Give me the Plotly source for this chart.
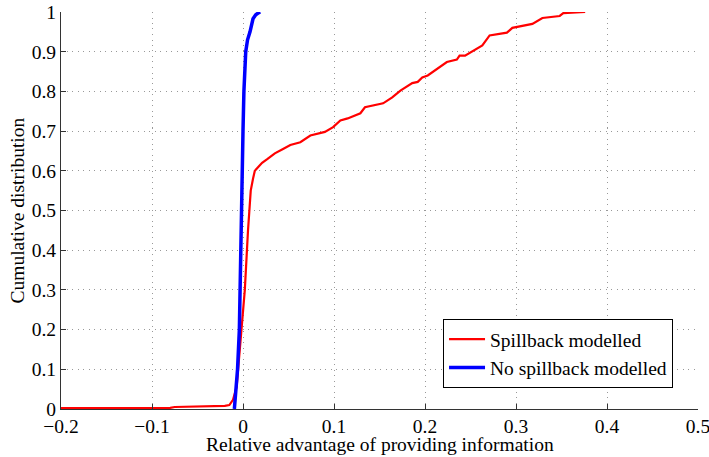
import plotly.graph_objects as go

# Spillback modelled (red) CDF
red_x = [-0.2, -0.1, -0.08, -0.075, -0.05, -0.045, -0.02, -0.015, -0.011, -0.007, -0.0015,
         0.002, 0.0055, 0.0066, 0.0085, 0.011, 0.013, 0.017, 0.021, 0.027, 0.035, 0.044,
         0.052, 0.063, 0.074, 0.09, 0.099, 0.107, 0.115, 0.129, 0.134, 0.154, 0.164, 0.173,
         0.186, 0.192, 0.197, 0.203, 0.213, 0.224, 0.235, 0.238, 0.244, 0.253, 0.263, 0.271,
         0.290, 0.296, 0.318, 0.329, 0.348, 0.352, 0.376]
red_y = [0.002, 0.002, 0.003, 0.005, 0.006, 0.008, 0.008, 0.01, 0.023, 0.055, 0.2,
         0.3, 0.45, 0.5, 0.55, 0.58, 0.6, 0.61, 0.62, 0.63, 0.644, 0.655,
         0.665, 0.672, 0.689, 0.698, 0.71, 0.727, 0.732, 0.745, 0.76, 0.77, 0.785, 0.802,
         0.821, 0.824, 0.835, 0.840, 0.857, 0.874, 0.880, 0.890, 0.890, 0.903, 0.916, 0.941,
         0.948, 0.960, 0.970, 0.985, 0.990, 0.997, 1.0]

# No spillback modelled (blue) CDF
blue_x = [-0.0095, -0.008, -0.006, -0.004, -0.002, -0.001, 0.0, 0.001, 0.002, 0.003,
          0.005, 0.0077, 0.011, 0.014, 0.017, 0.019]
blue_y = [0.0, 0.05, 0.1, 0.2, 0.5, 0.6, 0.7, 0.8, 0.85, 0.9,
          0.93, 0.95, 0.983, 0.993, 0.998, 1.0]

x_ticks = [-0.2, -0.1, 0, 0.1, 0.2, 0.3, 0.4, 0.5]
x_tick_labels = ["\u22120.2", "\u22120.1", "0", "0.1", "0.2", "0.3", "0.4", "0.5"]
y_ticks = [0, 0.1, 0.2, 0.3, 0.4, 0.5, 0.6, 0.7, 0.8, 0.9, 1]
y_tick_labels = ["0", "0.1", "0.2", "0.3", "0.4", "0.5", "0.6", "0.7", "0.8", "0.9", "1"]

x_title = "Relative advantage of providing information"
y_title = "Cumulative distribution"

FONT = "Liberation Serif"
FS = 19.5

fig = go.Figure()
fig.add_trace(go.Scatter(x=red_x, y=red_y, mode="lines", name="Spillback modelled",
                         line=dict(color="#ff0000", width=2.2)))
fig.add_trace(go.Scatter(x=blue_x, y=blue_y, mode="lines", name="No spillback modelled",
                         line=dict(color="#0000ff", width=3.5)))

axis_common = dict(
    showline=True, linecolor="#333333", linewidth=1,
    ticks="inside", ticklen=5, tickcolor="#333333",
    showgrid=True, gridcolor="#999999", griddash="1px,4.5px", gridwidth=1,
    zeroline=False, mirror=False, automargin=False,
    ticklabeloverflow="allow",
    tickfont=dict(family=FONT, size=FS, color="black"),
)

fig.update_layout(
    width=709, height=457,
    margin=dict(l=61, r=11, t=12, b=48),
    paper_bgcolor="white", plot_bgcolor="white",
    font=dict(family=FONT, size=FS, color="black"),
    xaxis=dict(range=[-0.2, 0.5], tickvals=x_ticks, ticktext=x_tick_labels, **axis_common),
    yaxis=dict(range=[0, 1], tickvals=y_ticks, ticktext=y_tick_labels, **axis_common),
    legend=dict(x=0.9608, xanchor="right", y=0.053, yanchor="bottom",
                bordercolor="black", borderwidth=1, bgcolor="white",
                font=dict(family=FONT, size=FS), tracegroupgap=0,
                itemwidth=36),
    showlegend=True,
    annotations=[
        dict(text=x_title, xref="paper", yref="paper", x=0.5, y=-0.09,
             xanchor="center", yanchor="middle", showarrow=False,
             font=dict(family=FONT, size=FS, color="black")),
        dict(text=y_title, xref="paper", yref="paper", x=-0.069, y=0.5,
             xanchor="center", yanchor="middle", showarrow=False, textangle=-90,
             font=dict(family=FONT, size=FS, color="black")),
    ],
)

fig.write_html("out.html",
               config={"displayModeBar": False},
               post_script="document.body.style.margin='0px';document.body.style.overflow='hidden';")
